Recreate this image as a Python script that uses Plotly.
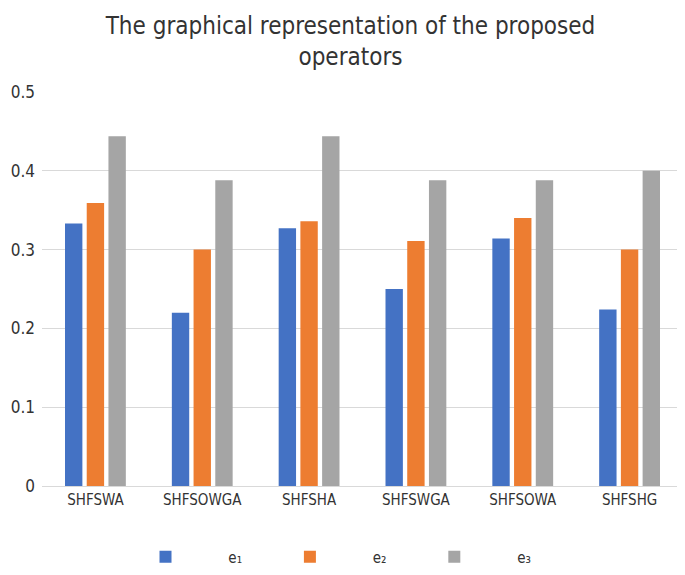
import plotly.graph_objects as go

categories = ["SHFSWA", "SHFSOWGA", "SHFSHA", "SHFSWGA", "SHFSOWA", "SHFSHG"]
e1 = [0.333, 0.220, 0.327, 0.250, 0.314, 0.224]
e2 = [0.359, 0.300, 0.336, 0.311, 0.340, 0.300]
e3 = [0.444, 0.388, 0.444, 0.388, 0.388, 0.400]
series_names = ["e\u2081", "e\u2082", "e\u2083"]
colors = ["#4472C4", "#ED7D31", "#A5A5A5"]
y_ticks = [0, 0.1, 0.2, 0.3, 0.4, 0.5]
y_tick_labels = ["0", "0.1", "0.2", "0.3", "0.4", "0.5"]

pre = "\u00a0" * 10
post = "\u00a0" * 10
fig = go.Figure()
for name, vals, c in zip(series_names, [e1, e2, e3], colors):
    fig.add_trace(go.Bar(x=categories, y=vals, name=pre + name + post, marker_color=c,
                         marker_line_width=0))

font_family = "DejaVu Sans Condensed, Liberation Sans Narrow, sans-serif"
fig.update_layout(
    width=685, height=575,
    paper_bgcolor="white", plot_bgcolor="white",
    margin=dict(l=34, r=10, t=84, b=97, autoexpand=False),
    title=dict(text="The graphical representation of the proposed<br>operators",
               x=0.5, xanchor="center", y=0.955, yanchor="middle",
               font=dict(family=font_family, size=24, color="#333333")),
    barmode="group", bargap=0.39, bargroupgap=0.2,
    font=dict(family=font_family, color="#333333"),
    legend=dict(orientation="h", x=0.5, xanchor="center", y=-0.18, yanchor="middle",
                font=dict(size=15, color="#333333"),
                traceorder="normal"),
    xaxis=dict(showgrid=False, tickfont=dict(size=15), ticks="", automargin=False,
               showline=True, linecolor="#D9D9D9"),
    yaxis=dict(range=[0, 0.5], tickvals=y_ticks, ticktext=y_tick_labels,
               gridcolor="#D9D9D9", tickfont=dict(size=17), zeroline=False,
               automargin=False, ticklabelstandoff=6),
)
fig.write_html("out.html")
